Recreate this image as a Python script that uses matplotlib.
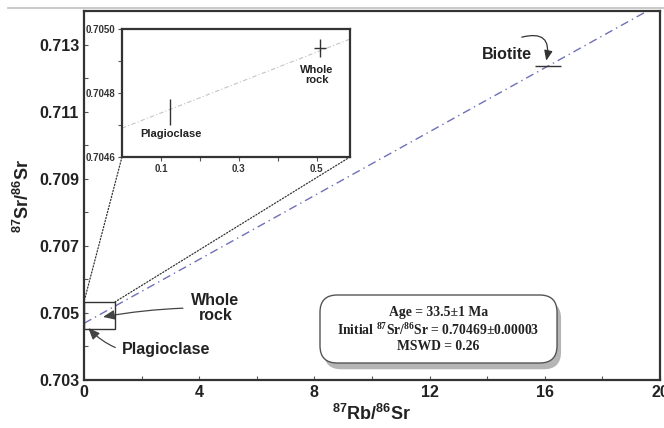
import matplotlib
matplotlib.use("Agg")
import matplotlib.pyplot as plt
from matplotlib.lines import Line2D
from matplotlib.patches import FancyBboxPatch, Rectangle, ConnectionPatch
from matplotlib.ticker import MultipleLocator

plt.rcParams['font.family'] = ['Liberation Sans', 'DejaVu Sans']
plt.rcParams['mathtext.fontset'] = 'custom'
plt.rcParams['mathtext.rm'] = 'Liberation Serif:bold'
plt.rcParams['mathtext.bf'] = 'Liberation Sans:bold'

# data
samples = ["Plagioclase", "Whole rock", "Biotite"]
rb_sr = [0.123, 0.508, 16.1]
sr_sr = [0.70474, 0.70494, 0.71237]
rb_err = [0.0, 0.015, 0.45]
sr_err = [0.00004, 0.000028, 0.0]

intercept = 0.70469
slope = 0.000476
age_text = "Age = 33.5\u00b11 Ma"
initial_text = "Initial $^{87}$Sr/$^{86}$Sr = 0.70469\u00b10.00003"
mswd_text = "MSWD = 0.26"

y_major = [0.703, 0.705, 0.707, 0.709, 0.711, 0.713]
y_minor = [0.704, 0.706, 0.708, 0.710, 0.712, 0.714]

txt = '#222222'
fig = plt.figure(figsize=(6.64, 4.28), dpi=100)
ax = fig.add_axes([0.1265, 0.1121, 0.8675, 0.8622])

# isochron
xl = [0, 20]
ax.plot(xl, [intercept + slope * x for x in xl], ls=(0, (6, 3, 1, 3)), color='#7070b8', lw=1.0, zorder=2)

# biotite error bar
ax.errorbar(rb_sr[2], sr_sr[2], xerr=rb_err[2], fmt='none', ecolor='#333333', elinewidth=1.0, capsize=0, zorder=3)

ax.set_xlim(0, 20)
ax.set_ylim(0.703, 0.714)
ax.xaxis.set_major_locator(MultipleLocator(4))
ax.xaxis.set_minor_locator(MultipleLocator(2))
ax.set_yticks(y_major)
ax.set_yticks(y_minor, minor=True)
ax.yaxis.set_major_formatter(plt.FormatStrFormatter('%.3f'))
ax.tick_params(which='both', direction='in', length=3, width=0.8, colors='#555555',
               labelcolor=txt, labelsize=11.5)
for lab in ax.get_xticklabels() + ax.get_yticklabels():
    lab.set_fontweight('bold')
for s in ax.spines.values():
    s.set_linewidth(1.6)
    s.set_color('#333333')

ax.set_xlabel(r'$^{\mathbf{87}}$Rb/$^{\mathbf{86}}$Sr', fontsize=13, fontweight='bold', color=txt, labelpad=3)
ax.set_ylabel(r'$^{\mathbf{87}}$Sr/$^{\mathbf{86}}$Sr', fontsize=13, fontweight='bold', color=txt, labelpad=4)

# zoom rectangle
ax.add_patch(Rectangle((0, 0.70452), 1.08, 0.00081, fill=False, ec='#333333', lw=1.0, zorder=4))

# annotations
ax.annotate("Whole\nrock", xy=(0.66, 0.70488), xytext=(4.56, 0.70515), ha='center', va='center',
            fontsize=11.5, fontweight='bold', color=txt, linespacing=1.0,
            arrowprops=dict(arrowstyle='-|>,head_length=0.6,head_width=0.25', color='#444444', lw=0.9,
                            connectionstyle='arc3,rad=0.05', shrinkA=4, shrinkB=0))
ax.annotate("Plagioclase", xy=(0.15, 0.70455), xytext=(2.85, 0.7039), ha='center', va='center',
            fontsize=11.5, fontweight='bold', color=txt,
            arrowprops=dict(arrowstyle='-|>,head_length=0.6,head_width=0.25', color='#444444', lw=0.9,
                            connectionstyle='arc3,rad=-0.3', shrinkA=3, shrinkB=0))
ax.text(14.7, 0.7127, "Biotite", ha='center', va='center', fontsize=11.5, fontweight='bold', color=txt)
ax.annotate("", xy=(16.05, 0.71252), xytext=(15.2, 0.71322),
            arrowprops=dict(arrowstyle='-|>,head_length=0.6,head_width=0.25', color='#333333', lw=0.9,
                            connectionstyle='arc3,rad=-0.8', shrinkA=0, shrinkB=0))

# results box with shadow
asp = 576 / 369
shadow = FancyBboxPatch((0.4167, 0.0291), 0.4115, 0.1843, boxstyle='round,pad=0,rounding_size=0.03',
                        mutation_aspect=asp, transform=ax.transAxes, fc='#b5b5b5', ec='none', zorder=5)
box = FancyBboxPatch((0.4097, 0.0461), 0.4115, 0.1843, boxstyle='round,pad=0,rounding_size=0.03',
                     mutation_aspect=asp, transform=ax.transAxes, fc='white', ec='#555555', lw=1.0, zorder=6)
ax.add_patch(shadow)
ax.add_patch(box)
ax.text(0.6155, 0.137, age_text + "\n" + initial_text + "\n" + mswd_text, transform=ax.transAxes,
        ha='center', va='center', fontsize=9.8, fontweight='bold', family='Liberation Serif',
        color=txt, linespacing=1.15, zorder=7)

# inset
ins = fig.add_axes([0.1837, 0.6332, 0.3434, 0.2991])
ins.plot([0, 0.6], [intercept, intercept + slope * 0.6], ls=(0, (4, 2, 1, 2)), color='#c4c4c4', lw=0.8)
ins.errorbar(rb_sr[:2], sr_sr[:2], xerr=rb_err[:2], yerr=sr_err[:2], fmt='none', ecolor='#333333',
             elinewidth=1.0, capsize=0)
ins.set_xlim(0, 0.585)
ins.set_ylim(0.7046, 0.7050)
ins.set_xticks([0.1, 0.3, 0.5])
ins.set_xticks([0.2, 0.4], minor=True)
ins.set_yticks([0.7046, 0.7048, 0.7050])
ins.set_yticks([0.7047, 0.7049], minor=True)
ins.yaxis.set_major_formatter(plt.FormatStrFormatter('%.4f'))
ins.xaxis.set_major_formatter(plt.FormatStrFormatter('%.1f'))
ins.tick_params(which='both', direction='out', length=3, width=0.8, colors='#555555',
                labelcolor='#333333', labelsize=7, pad=2)
for lab in ins.get_xticklabels() + ins.get_yticklabels():
    lab.set_fontweight('bold')
for s in ins.spines.values():
    s.set_linewidth(1.6)
    s.set_color('#333333')
ins.text(0.126, 0.704672, "Plagioclase", ha='center', va='center', fontsize=8, fontweight='bold', color=txt)
ins.text(0.50, 0.704856, "Whole\nrock", ha='center', va='center', fontsize=8, fontweight='bold',
         color=txt, linespacing=1.0)

# connector lines from inset to the zoom rectangle
for ca, cb in [((0, 0), (0, 0.70533)), ((1, 0), (1.08, 0.70533))]:
    con = ConnectionPatch(xyA=ca, coordsA='axes fraction', axesA=ins, xyB=cb, coordsB='data', axesB=ax,
                          ls=(0, (1, 1.5)), color='#333333', lw=0.9)
    fig.add_artist(con)

fig.add_artist(Line2D([0.012, 1.0], [1 - 8 / 428] * 2, color='#c0c0c0', lw=1.2))

fig.savefig('out.png', dpi=100)
